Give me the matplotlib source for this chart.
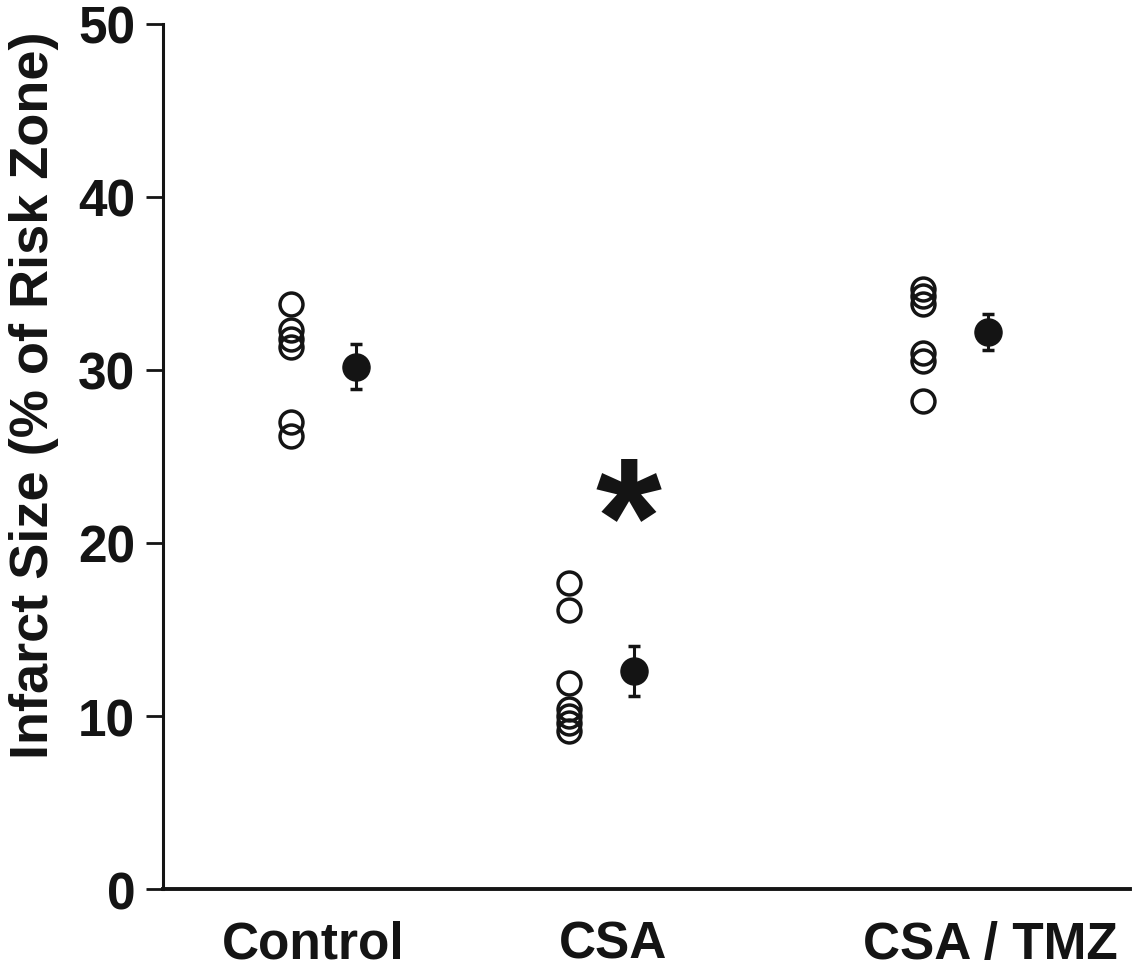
import numpy as np
import matplotlib.pyplot as plt

plt.rcParams['font.family'] = ['Liberation Sans', 'DejaVu Sans']

# data
groups = ["Control", "CSA", "CSA / TMZ"]
control_pts = [33.8, 32.3, 31.8, 31.3, 27.0, 26.2]
csa_pts = [17.7, 16.1, 11.9, 10.4, 10.0, 9.6, 9.15]
tmz_pts = [34.7, 34.3, 33.8, 31.0, 30.5, 28.2]
means = [30.2, 12.6, 32.2]
sems = [1.3, 1.45, 1.05]

open_x = [0.463, 1.469, 2.751]
mean_off = 0.234
label_x = [0.543, 1.629, 2.993]

ink = "#141414"

fig = plt.figure(figsize=(11.34, 9.79), dpi=100)
ax = fig.add_axes([0.1437, 0.0909, 0.853, 0.8836])

for xpos, pts in zip(open_x, [control_pts, csa_pts, tmz_pts]):
    ax.plot([xpos] * len(pts), pts, "o", ms=16.5, mfc="none", mec=ink, mew=2.5,
            linestyle="none", clip_on=False)

ax.errorbar(np.array(open_x) + mean_off, means, yerr=sems, fmt="o", ms=19.5,
            color=ink, ecolor=ink, elinewidth=2.2, capsize=4.5, capthick=2.5)

# significance marker
ax.text(open_x[1] + mean_off - 0.02, 20.8, "*", fontsize=122, fontweight="bold",
        ha="center", va="center", color=ink)

ax.set_xlim(0, 3.5)
ax.set_ylim(0, 50)
ax.set_yticks([0, 10, 20, 30, 40, 50])
ax.set_xticks(label_x)
ax.set_xticklabels(groups)
ax.tick_params(axis="x", length=0, pad=22, labelsize=37)
ax.tick_params(axis="y", length=12, width=2, pad=8, labelsize=37, colors=ink)
for lab in ax.get_xticklabels() + ax.get_yticklabels():
    lab.set_fontweight("bold")
    lab.set_color(ink)

ax.spines["top"].set_visible(False)
ax.spines["right"].set_visible(False)
ax.spines["left"].set_linewidth(2.2)
ax.spines["bottom"].set_linewidth(2.8)
ax.spines["left"].set_color(ink)
ax.spines["bottom"].set_color(ink)

ax.set_ylabel("Infarct Size (% of Risk Zone)", fontsize=39, fontweight="bold",
              color=ink, va="center")
ax.yaxis.set_label_coords(-0.133, 0.572)

fig.savefig("out.png", dpi=100)
